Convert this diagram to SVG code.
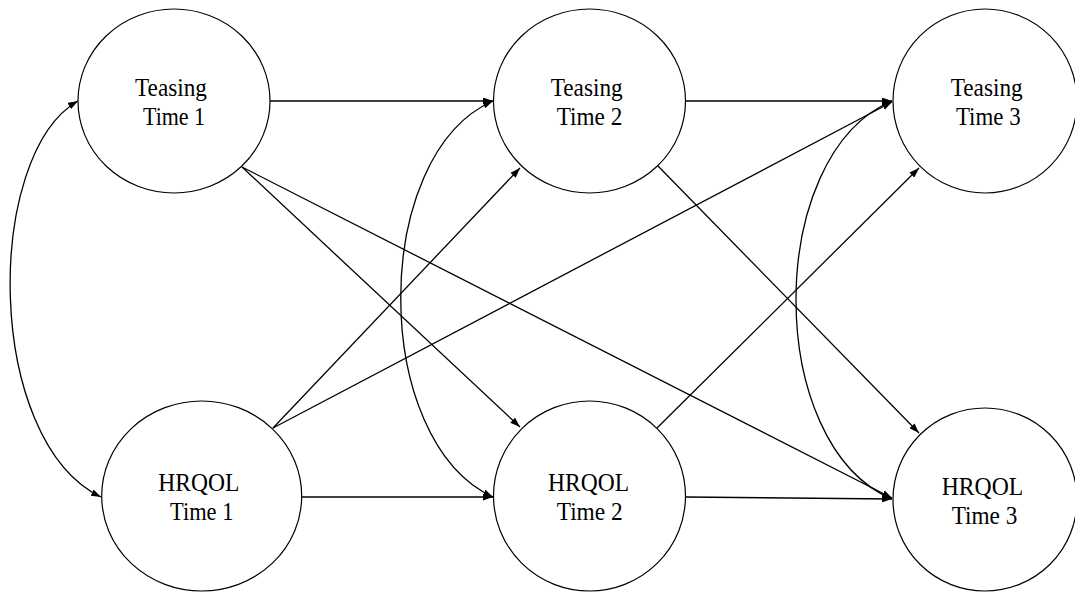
<svg xmlns="http://www.w3.org/2000/svg" width="1075" height="592" viewBox="0 0 1075 592">
<style>
.node ellipse{fill:#fff;stroke:#000;stroke-width:1.2}
.node text{font-family:"Liberation Serif","Times New Roman",serif;font-size:25px;fill:#000;text-anchor:middle}
.edge{fill:none;stroke:#000;stroke-width:1.3}
</style>
<defs>
<marker id="ah" viewBox="0 0 10 7" refX="10" refY="3.5" markerWidth="10" markerHeight="7" markerUnits="userSpaceOnUse" orient="auto-start-reverse">
<path d="M0,0 L10,3.5 L0,7 z" fill="#000"/>
</marker>
</defs>
<rect width="1075" height="592" fill="#fff"/>
<g id="connectors">
<path class="edge" d="M270,101 L493,101" marker-end="url(#ah)"/>
<path class="edge" d="M686,101 L892,101" marker-end="url(#ah)"/>
<path class="edge" d="M302,497 L493,497" marker-end="url(#ah)"/>
<path class="edge" d="M686,497 L892,499" marker-end="url(#ah)"/>
<path class="edge" d="M242,167 L520,427" marker-end="url(#ah)"/>
<path class="edge" d="M242,167 L892,498" marker-end="url(#ah)"/>
<path class="edge" d="M273,428 L520,168" marker-end="url(#ah)"/>
<path class="edge" d="M273,428 L892,102" marker-end="url(#ah)"/>
<path class="edge" d="M658,166 L919,433" marker-end="url(#ah)"/>
<path class="edge" d="M657,428 L919,168" marker-end="url(#ah)"/>
<path class="edge" d="M78,101 C-16,155 -16,440 101,497" marker-start="url(#ah)" marker-end="url(#ah)"/>
<path class="edge" d="M493,101 C370,155 370,440 493,497" marker-start="url(#ah)" marker-end="url(#ah)"/>
<path class="edge" d="M892,101 C764,155 764,445 892,499" marker-start="url(#ah)" marker-end="url(#ah)"/>
</g>
<g id="teasing1" class="node">
<ellipse cx="174" cy="101" rx="96" ry="92"/>
<text x="171" y="96" textLength="72" lengthAdjust="spacingAndGlyphs">Teasing</text>
<text x="174" y="124.5" textLength="62" lengthAdjust="spacingAndGlyphs">Time 1</text>
</g>
<g id="teasing2" class="node">
<ellipse cx="589.5" cy="101" rx="96" ry="92"/>
<text x="586.7" y="96" textLength="72" lengthAdjust="spacingAndGlyphs">Teasing</text>
<text x="589.5" y="124.5" textLength="65.6" lengthAdjust="spacingAndGlyphs">Time 2</text>
</g>
<g id="teasing3" class="node">
<ellipse cx="985" cy="101" rx="92" ry="92"/>
<text x="986.7" y="96" textLength="72" lengthAdjust="spacingAndGlyphs">Teasing</text>
<text x="988.3" y="124.5" textLength="64.7" lengthAdjust="spacingAndGlyphs">Time 3</text>
</g>
<g id="hrqol1" class="node">
<ellipse cx="201.7" cy="496" rx="100" ry="95"/>
<text x="198.8" y="491" textLength="81" lengthAdjust="spacingAndGlyphs">HRQOL</text>
<text x="201.7" y="520" textLength="63.3" lengthAdjust="spacingAndGlyphs">Time 1</text>
</g>
<g id="hrqol2" class="node">
<ellipse cx="589.5" cy="496" rx="96" ry="95"/>
<text x="588.5" y="491" textLength="81" lengthAdjust="spacingAndGlyphs">HRQOL</text>
<text x="589.7" y="520" textLength="66" lengthAdjust="spacingAndGlyphs">Time 2</text>
</g>
<g id="hrqol3" class="node">
<ellipse cx="985" cy="499.5" rx="92" ry="91.5"/>
<text x="982.5" y="495" textLength="81.6" lengthAdjust="spacingAndGlyphs">HRQOL</text>
<text x="984.5" y="524" textLength="65.6" lengthAdjust="spacingAndGlyphs">Time 3</text>
</g>
</svg>
